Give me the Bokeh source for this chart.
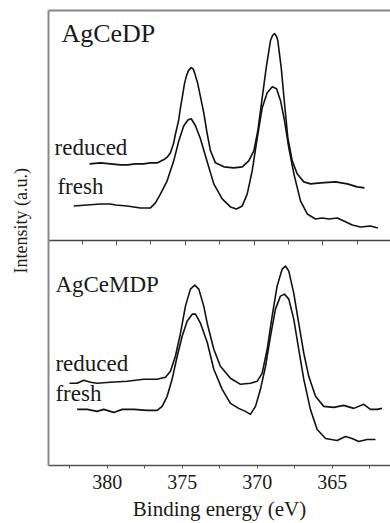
from bokeh.plotting import figure
from bokeh.models import Range1d, LinearAxis, FixedTicker, Label, Title
from bokeh.embed import file_html
from bokeh.resources import INLINE

# ---- data: Ag 3d XPS spectra (intensity in a.u.) ----
# upper panel: AgCeDP, reduced
dp_red_energy = [381.96, 381.16, 380.44, 379.71, 379.20, 378.62, 378.04, 377.53, 377.02, 376.58,
                 376.29, 376.08, 375.86, 375.71, 375.49, 375.35, 375.20, 375.06, 374.91, 374.77,
                 374.57, 374.44, 374.33, 374.11, 373.90, 373.66, 373.41, 373.17, 372.81, 372.20,
                 371.48, 370.86, 370.39, 370.02, 369.73, 369.41, 369.12, 368.81, 368.66, 368.52,
                 368.37, 368.28, 368.03, 367.79, 367.55, 367.23, 366.87, 366.39, 365.90, 365.17,
                 364.08, 363.23, 362.51, 361.98]
dp_red = [76, 77, 76, 75, 75, 76, 76, 77, 77, 80,
          83, 87, 96, 106, 119, 132, 144, 156, 164, 169,
          172, 171, 167, 157, 143, 127, 106, 89, 77, 73,
          72, 73, 79, 89, 109, 142, 172, 199, 204, 206,
          203, 199, 172, 136, 102, 79, 66, 58, 56, 57,
          58, 56, 53, 52]

# upper panel: AgCeDP, fresh
dp_fresh_energy = [383.10, 382.13, 381.16, 380.44, 380.07, 379.22, 378.26, 377.53, 377.17, 376.80,
                   376.32, 375.84, 375.47, 375.11, 374.79, 374.57, 374.26, 373.90, 373.41, 372.93,
                   372.32, 371.72, 371.28, 370.86, 370.50, 370.14, 369.77, 369.41, 369.05, 368.68,
                   368.37, 368.08, 367.79, 367.48, 367.11, 366.63, 366.14, 365.54, 365.05, 364.57,
                   363.96, 363.48, 362.87, 362.27, 361.54, 361.01]
dp_fresh = [34, 35, 36, 36, 35, 34, 32, 32, 37, 46,
            59, 79, 99, 114, 120, 121, 114, 101, 78, 56,
            41, 33, 31, 34, 46, 69, 102, 132, 147, 153,
            151, 139, 119, 92, 66, 39, 26, 21, 22, 21,
            22, 19, 15, 13, 14, 12]

# lower panel: AgCeMDP, reduced
mdp_red_energy = [382.51, 382.00, 381.56, 381.11, 380.67, 379.78, 378.67, 377.56, 376.67, 376.11,
                  375.78, 375.45, 375.11, 374.78, 374.45, 374.16, 373.89, 373.56, 373.33, 372.89,
                  372.45, 371.78, 371.11, 370.45, 370.00, 369.67, 369.33, 369.00, 368.67, 368.33,
                  368.11, 367.89, 367.56, 367.23, 366.89, 366.56, 366.11, 365.56, 364.89, 364.23,
                  363.56, 362.89, 362.45, 362.00, 361.67]
mdp_red = [82, 82, 85, 83, 82, 83, 84, 86, 86, 88,
           94, 109, 132, 159, 176, 180, 176, 159, 142, 116,
           99, 87, 81, 82, 84, 92, 116, 149, 179, 196,
           199, 194, 172, 142, 112, 89, 69, 59, 58, 60,
           57, 61, 56, 56, 57]

# lower panel: AgCeMDP, fresh
mdp_fresh_energy = [382.00, 381.33, 380.67, 380.23, 379.56, 379.00, 378.23, 377.33, 376.67, 376.33,
                    376.00, 375.67, 375.33, 375.00, 374.67, 374.33, 374.11, 373.78, 373.33, 372.89,
                    372.33, 371.78, 371.23, 370.78, 370.45, 370.11, 369.78, 369.44, 369.11, 368.78,
                    368.45, 368.18, 367.89, 367.56, 367.23, 366.89, 366.45, 366.00, 365.44, 364.67,
                    364.11, 363.67, 363.23, 362.67, 362.11]
mdp_fresh = [56, 56, 54, 56, 53, 56, 56, 55, 55, 59,
             69, 86, 109, 129, 144, 151, 151, 142, 123, 96,
             76, 62, 57, 54, 51, 59, 76, 99, 129, 156,
             169, 171, 166, 146, 116, 86, 56, 36, 27, 25,
             29, 27, 24, 26, 26]

x_ticks = [380, 375, 370, 365]
x_minor = [382.5, 377.5, 372.5, 367.5, 362.5]

# ---- layout / style constants ----
TOP_OFFSET = 225          # vertical offset of the upper panel
FONT = "Liberation Serif"
INK = "#111111"
TXT = "#1a1a1a"

p = figure(width=390, height=523, output_backend="svg", toolbar_location=None,
           x_range=Range1d(383.91, 361.11), y_range=Range1d(0, 454),
           x_axis_location=None, y_axis_location=None,
           min_border_left=48, min_border_right=0, min_border_top=10)
p.extra_x_ranges = {"top": Range1d(384.94, 360.09)}
p.outline_line_color = None
p.xgrid.visible = False
p.ygrid.visible = False
p.background_fill_color = "white"
p.border_fill_color = "white"

# bottom axis
xaxis = LinearAxis(ticker=FixedTicker(ticks=x_ticks, minor_ticks=x_minor),
                   axis_label="Binding energy (eV)")
xaxis.axis_line_color = "#555555"
xaxis.axis_line_width = 1.5
xaxis.major_tick_in = 0
xaxis.major_tick_out = 3
xaxis.minor_tick_in = 0
xaxis.minor_tick_out = 3
xaxis.major_tick_line_color = "#555555"
xaxis.minor_tick_line_color = "#555555"
xaxis.major_label_text_font = FONT
xaxis.major_label_text_font_size = "20px"
xaxis.major_label_text_color = TXT
xaxis.major_label_standoff = 6
xaxis.axis_label_text_font = FONT
xaxis.axis_label_text_font_size = "21px"
xaxis.axis_label_text_font_style = "normal"
xaxis.axis_label_text_color = TXT
xaxis.axis_label_standoff = 5
p.add_layout(xaxis, "below")

# divider axis of the upper panel
divaxis = LinearAxis(x_range_name="top", fixed_location=TOP_OFFSET,
                     ticker=FixedTicker(ticks=x_ticks, minor_ticks=x_minor))
divaxis.axis_line_color = "#444444"
divaxis.axis_line_width = 1.5
divaxis.major_tick_in = 0
divaxis.major_tick_out = 5
divaxis.minor_tick_in = 0
divaxis.minor_tick_out = 4
divaxis.major_tick_line_color = "#555555"
divaxis.minor_tick_line_color = "#555555"
divaxis.major_label_text_font_size = "0px"
divaxis.major_label_text_alpha = 0
p.add_layout(divaxis, "below")

# left frame line
yaxis = LinearAxis(ticker=FixedTicker(ticks=[]))
yaxis.axis_line_color = "#888888"
yaxis.axis_line_width = 2
yaxis.major_tick_in = 0
yaxis.major_tick_out = 0
yaxis.minor_tick_out = 0
yaxis.major_label_text_font_size = "0px"
yaxis.major_label_standoff = 0
p.add_layout(yaxis, "left")

# blank spacer between frame and y title
p.add_layout(Title(text=" ", standoff=0, text_font=FONT, text_font_size="15px"), "left")

# y axis title
p.add_layout(Title(text="Intensity (a.u.)", align="left", offset=192, standoff=0,
                   vertical_align="bottom",
                   text_font=FONT, text_font_size="18px", text_font_style="normal",
                   text_color=TXT), "left")

# top frame line
topaxis = LinearAxis(x_range_name="top", ticker=FixedTicker(ticks=[]))
topaxis.axis_line_color = "#888888"
topaxis.axis_line_width = 2
topaxis.major_tick_out = 0
topaxis.minor_tick_out = 0
topaxis.major_label_text_font_size = "0px"
topaxis.major_label_standoff = 0
p.add_layout(topaxis, "above")

# curves
p.line(dp_red_energy, [v + TOP_OFFSET for v in dp_red], x_range_name="top",
       line_color=INK, line_width=1.6, line_join="round")
p.line(dp_fresh_energy, [v + TOP_OFFSET for v in dp_fresh], x_range_name="top",
       line_color=INK, line_width=1.6, line_join="round")
p.line(mdp_red_energy, mdp_red, line_color=INK, line_width=1.6, line_join="round")
p.line(mdp_fresh_energy, mdp_fresh, line_color=INK, line_width=1.6, line_join="round")

def lab(x, y, text, size, rng="default"):
    p.add_layout(Label(x=x, y=y, text=text, x_range_name=rng,
                       text_font=FONT, text_font_size=size, text_color=TXT,
                       text_baseline="alphabetic"))

lab(384.0, 431, "AgCeDP", "26px", rng="top")
lab(384.5, 317, "reduced", "23px", rng="top")
lab(384.29, 278, "fresh", "23px", rng="top")
lab(383.45, 181, "AgCeMDP", "23px")
lab(383.45, 102, "reduced", "23px")
lab(383.45, 72, "fresh", "23px")

open("out.html", "w").write(file_html(p, INLINE))
